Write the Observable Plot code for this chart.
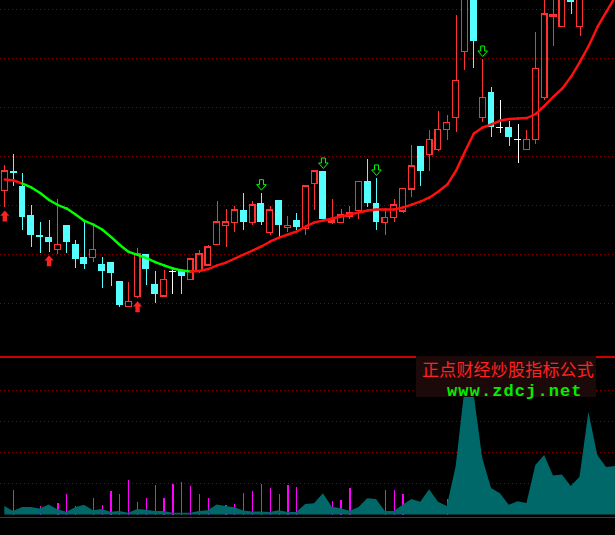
<!DOCTYPE html>
<html><head><meta charset="utf-8">
<script src="https://cdn.jsdelivr.net/npm/d3@7"></script>
<script src="https://cdn.jsdelivr.net/npm/@observablehq/plot@0.6"></script>
<style>
html,body{margin:0;padding:0;background:#000;}
#wrap{position:relative;width:615px;height:535px;overflow:hidden;background:#000;}
#wrap svg{display:block;}
#wm{position:absolute;left:416px;top:356px;width:180px;height:41px;background:#1c0a0a;}
#wm .t1{position:absolute;left:6px;top:1px;font-family:"Noto Sans CJK SC",sans-serif;font-size:17px;line-height:24.6px;color:#ff2222;letter-spacing:0.2px;white-space:nowrap;}
#wm .t2{position:absolute;left:31px;top:25.5px;font-family:"Liberation Mono",monospace;font-weight:bold;font-size:17px;line-height:19.3px;letter-spacing:1.1px;color:#00ee00;white-space:nowrap;}
</style></head>
<body>
<div id="wrap"><div id="wm"><span class="t1">正点财经炒股指标公式</span><span class="t2">www.zdcj.net</span></div></div>
<script>
// ---- price candles (one per trading day) ----
const open = [16.46,18.47,16.94,13.98,11.94,11.73,10.48,12.96,11.02,9.69, 9.66,8.98,9.18,7.24,4.66,5.64,10.00,6.94,5.71,8.27, 8.27,7.42,8.30,8.88,10.95,12.89,13.19,14.49,13.19,15.20, 12.17,15.51,12.68,13.47,12.62,17.21,18.47,13.27,13.23,13.88, 14.42,17.45,15.20,13.19,13.74,14.39,16.63,21.02,20.17,20.68, 22.72,23.95,30.64,37.45,23.95,26.53,22.93,22.96,21.73,20.68, 21.70,25.95,34.29,33.19,36.94,33.19,36.5,39.0,40.5,41.5];
const close = [18.47,18.27,13.81,11.94,11.73,11.22,10.99,11.26,9.52,9.01, 10.48,8.30,8.03,4.77,5.17,10.00,8.50,5.95,7.42,8.27, 7.79,9.49,10.00,10.71,13.27,13.27,14.49,13.27,15.00,13.27, 14.49,12.96,12.93,12.79,16.94,18.47,13.57,13.47,13.98,14.18, 17.42,15.23,13.30,13.74,15.00,16.70,18.98,18.47,21.70,22.72, 23.44,27.72,37.96,31.73,25.99,22.99,22.93,21.97,21.73,21.70, 28.95,34.49,34.46,37.45,35.74,37.96,39.5,41.0,42.0,43.0];
const high = [19.08,20.20,18.27,15.00,13.27,13.47,15.61,12.96,11.43,13.47, 13.03,9.72,9.18,7.24,7.14,10.58,10.00,8.27,8.37,8.37, 8.27,9.49,10.41,10.95,15.41,14.59,14.93,16.26,15.41,16.26, 14.90,15.51,13.88,14.15,16.94,18.47,18.47,15.58,14.59,14.93, 17.42,19.69,17.76,14.39,15.61,16.70,21.12,21.02,22.65,24.59, 24.18,34.39,38.98,38.47,29.90,27.01,25.71,23.57,23.27,22.65, 32.62,36.94,36.94,38.47,38.47,38.98,40.0,42.0,43.0,44.0];
const low = [14.80,16.94,12.45,10.74,10.10,10.23,10.00,10.10,8.57,8.50, 9.21,6.50,6.77,4.59,4.66,5.54,6.81,5.03,5.71,5.92, 5.95,7.42,8.03,8.88,10.95,10.74,12.28,12.45,12.96,12.96, 11.94,11.77,12.28,12.45,11.94,14.49,13.57,13.03,13.23,13.54, 13.54,14.83,12.45,11.94,13.30,14.15,15.79,16.94,18.50,20.54, 21.63,22.48,28.78,29.01,23.50,21.97,22.32,21.05,19.26,20.68, 21.22,25.71,31.22,33.19,34.49,32.28,36.2,38.0,39.5,41.0];
// moving-average line and its trend colour (U = rising/red, D = falling/green)
const ma = [17.65,17.55,17.24,16.84,16.28,15.56,15.05,14.69,14.08,13.42, 13.06,12.55,11.79,10.97,10.26,9.95,9.64,9.23,8.88,8.57, 8.37,8.27,8.32,8.52,8.88,9.18,9.59,10.00,10.41,10.82, 11.33,11.73,12.04,12.35,12.86,13.27,13.47,13.67,13.88,14.08, 14.29,14.49,14.59,14.59,14.59,14.80,15.10,15.41,15.82,16.43, 17.14,18.57,20.51,22.35,22.96,23.27,23.67,23.83,23.88,23.93, 24.34,25.20,26.12,26.94,28.16,29.69,31.33,33.27,34.80,36.33];
const maTrend = "UU" + "DDDDDDDDDDDDDDDDDDD" + "UUUUUUUUUU" + "UUUUUUUUUU" + "UUUUUUUUUU" + "UUUUUUUUUU" + "UUUUUUUUU";
// signal arrows (candle numbers)
const buyAt = [1, 6, 16];
const sellAt = [30, 37, 43, 55];
// grid levels
const priceGrid = [5, 10, 15, 20, 25, 30, 35];
// ---- lower indicator panel ----
const flow = [0.27,0.11,0.24,0.24,0.19,0.32,0.17,0.09,0.23,0.31, 0.14,0.18,0.09,0.11,0.06,0.18,0.15,0.11,0.11,0.06, 0.06,0.06,0.11,0.14,0.32,0.27,0.23,0.13,0.10,0.10, 0.08,0.14,0.08,0.08,0.34,0.36,0.68,0.25,0.20,0.12, 0.23,0.52,0.50,0.11,0.11,0.31,0.50,0.41,0.81,0.41, 0.27,1.55,4.05,3.95,1.82,0.85,0.68,0.31,0.43,0.37, 1.59,1.91,1.25,1.29,0.92,1.21,3.30,1.91,1.53,1.56];
const spike = [0,0.79,0,0,0.27,0,0.37,0.66,0.27,0, 0.53,0.31,0.76,0.66,1.11,0.40,0.53,0.95,0.53,0.98, 1.05,0.92,0.66,0.53,0,0.31,0.34,0.69,0.76,0.98, 0.85,0.66,0.95,0.88,0,0,0,0.43,0.47,0.85, 0,0,0,0.79,0.79,0.66,0,0,0,0, 0.50,0,0,0,0,0,0,0,0,0, 0,0,0,0,0,0,0,0,0,0];
const flowGrid = [1, 2, 3, 4];
const panelEdges = [5.08, -0.09];

const RED = "#ff3232", CYAN = "#54ffff";
const candles = open.map((o, k) => ({i: k + 1, open: o, close: close[k], high: high[k], low: low[k]}));
const colorOf = d => d.close > d.open ? RED : d.close < d.open ? CYAN : "#ffffff";
const ups = candles.filter(d => d.close > d.open);
const downs = candles.filter(d => d.close < d.open);
const dojis = candles.filter(d => d.close === d.open);
const maSegs = d3.range(ma.length - 1).map(k => ({x1: k + 1, x2: k + 2, y1: ma[k], y2: ma[k + 1], t: maTrend[k]}));

const arrowUp = {draw(c) { c.moveTo(0, -5.5); c.lineTo(4.6, -0.3); c.lineTo(2.2, -0.3); c.lineTo(2.2, 5.5); c.lineTo(-2.2, 5.5); c.lineTo(-2.2, -0.3); c.lineTo(-4.6, -0.3); c.closePath(); }};
const arrowDown = {draw(c) { c.moveTo(-2, -5.5); c.lineTo(2, -5.5); c.lineTo(2, -0.5); c.lineTo(4.8, -0.5); c.lineTo(0, 5); c.lineTo(-4.8, -0.5); c.lineTo(-2, -0.5); c.closePath(); }};

const xDomain = [0.514, 70.006];

const main = Plot.plot({
  width: 615, height: 356, margin: 0,
  style: {background: "#000"},
  x: {domain: xDomain, axis: null},
  y: {domain: [-0.41, 35.92], axis: null},
  marks: [
    Plot.ruleY(priceGrid, {stroke: "#8c0000", strokeDasharray: "1,3", shapeRendering: "crispEdges"}),
    Plot.ruleX(candles, {x: "i", y1: "low", y2: "high", stroke: colorOf, shapeRendering: "crispEdges"}),
    Plot.rect(downs, {x1: d => d.i - 0.39, x2: d => d.i + 0.39, y1: "open", y2: "close", fill: CYAN, shapeRendering: "crispEdges"}),
    Plot.rect(ups, {x1: d => d.i - 0.33, x2: d => d.i + 0.33, y1: "open", y2: "close", fill: "#000", stroke: RED, strokeWidth: 1.2, shapeRendering: "crispEdges"}),
    Plot.ruleY(dojis, {y: "close", x1: d => d.i - 0.4, x2: d => d.i + 0.4, stroke: "#fff", shapeRendering: "crispEdges"}),
    Plot.link(maSegs, {x1: "x1", y1: "y1", x2: "x2", y2: "y2", stroke: d => d.t === "U" ? "#ff1010" : "#00ff00", strokeWidth: 2.4, strokeLinecap: "round"}),
    Plot.dot(candles.filter(d => buyAt.includes(d.i)), {x: "i", y: "low", dy: 8.5, symbol: arrowUp, r: 5, fill: "#ff2020", stroke: "none"}),
    Plot.dot(candles.filter(d => sellAt.includes(d.i)), {x: "i", y: "high", dy: -8, symbol: arrowDown, r: 5, fill: "#000", stroke: "#00ff00", strokeWidth: 1})
  ]
});

const flowData = flow.map((v, k) => ({i: k + 1, v}));
const spikeData = spike.map((v, k) => ({i: k + 1, v})).filter(d => d.v > 0);

const lower = Plot.plot({
  width: 615, height: 179, margin: 0,
  style: {background: "#000"},
  x: {domain: xDomain, axis: null},
  y: {domain: [-0.659, 5.096], axis: null},
  marks: [
    Plot.ruleY(flowGrid, {stroke: "#8c0000", strokeDasharray: "1,3", shapeRendering: "crispEdges"}),
    Plot.ruleX(spikeData, {x: "i", y1: 0, y2: "v", stroke: "#ff00ff", strokeWidth: 1.2, shapeRendering: "crispEdges"}),
    Plot.areaY(flowData, {x: "i", y: "v", fill: "#006868"}),
    Plot.ruleY(panelEdges, {stroke: "#cc0000", strokeWidth: 1.2, shapeRendering: "crispEdges"})
  ]
});

const wrap = document.getElementById("wrap");
wrap.insertBefore(lower, wrap.firstChild);
wrap.insertBefore(main, lower);
</script>
</body></html>
